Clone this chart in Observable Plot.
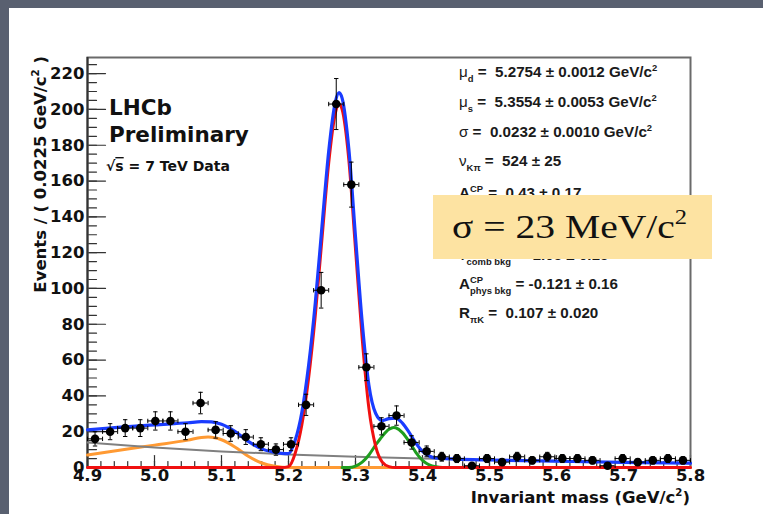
<!DOCTYPE html>
<html>
<head>
<meta charset="utf-8">
<script src="https://cdn.jsdelivr.net/npm/d3@7"></script>
<script src="https://cdn.jsdelivr.net/npm/@observablehq/plot@0.6"></script>
<style>
  html, body { margin: 0; padding: 0; background: #fff; }
  #slide { position: relative; width: 763px; height: 514px; overflow: hidden; background: #fff; }
  #slide svg { position: absolute; left: 0; top: 0; }
  .band { position: absolute; background: #596070; z-index: 2; }
</style>
</head>
<body>
<div id="slide"></div>
<script>
// B -> K pi invariant-mass spectrum, 0.0225 GeV/c^2 bins
const binWidth = 0.0225;
const binCenter = [4.91125, 4.93375, 4.95625, 4.97875, 5.00125, 5.02375, 5.04625, 5.06875, 5.09125, 5.11375,
                   5.13625, 5.15875, 5.18125, 5.20375, 5.22625, 5.24875, 5.27125, 5.29375, 5.31625, 5.33875,
                   5.36125, 5.38375, 5.40625, 5.42875, 5.45125, 5.47375, 5.49625, 5.51875, 5.54125, 5.56375,
                   5.58625, 5.60875, 5.63125, 5.65375, 5.67625, 5.69875, 5.72125, 5.74375, 5.76625, 5.78875];
const events = [16, 20, 22, 22, 26, 26, 20, 36, 21, 19,
                17, 13, 10, 13, 35, 99, 203, 158, 56, 23,
                29, 14, 9, 6, 5, 1, 5, 3, 6, 4,
                6, 5, 5, 4, 1, 5, 3, 4, 5, 4];

// Fit components (events per bin)
const totalMass = [4.90, 4.95, 5.00, 5.05, 5.07, 5.085, 5.10, 5.12, 5.14, 5.16, 5.18, 5.19, 5.20, 5.21, 5.22, 5.23,
                   5.24, 5.25, 5.26, 5.27, 5.2754, 5.28, 5.29, 5.30, 5.31, 5.32, 5.33, 5.34, 5.35, 5.36, 5.37,
                   5.38, 5.39, 5.40, 5.41, 5.42, 5.45, 5.50, 5.60, 5.70, 5.80];
const totalFit  = [21.0, 22.5, 23.8, 25.0, 25.6, 25.5, 24.2, 20.2, 14.6, 10.4, 8.4, 7.9, 7.8, 15.2, 31.0, 57.0,
                   92.0, 134.8, 176.6, 204.4, 209.4, 206.3, 178.1, 128.8, 81.0, 45.9, 30.3, 26.2, 27.3, 27.6, 24.8,
                   19.6, 13.6, 9.0, 6.4, 5.3, 4.7, 4.2, 3.5, 2.9, 2.4];

const bdMass = [4.90, 5.19, 5.20, 5.21, 5.22, 5.23, 5.24, 5.25, 5.26, 5.27, 5.2754, 5.28, 5.29, 5.30, 5.31,
                5.32, 5.33, 5.34, 5.35, 5.36, 5.80];
const bdFit  = [0, 0, 0.5, 8, 24, 50, 85, 128, 170, 198, 203, 200, 172, 122, 72,
                33, 12, 3, 0.5, 0, 0];

const bsMass = [5.28, 5.29, 5.30, 5.31, 5.32, 5.33, 5.34, 5.35, 5.357, 5.36, 5.37, 5.38, 5.39, 5.40, 5.41, 5.42, 5.43, 5.44];
const bsFit  = [0, 0, 0.8, 3, 7, 12.5, 17.5, 21.3, 22.4, 22.2, 19.5, 14.5, 8.5, 4, 1.5, 0.4, 0, 0];

const physMass = [4.90, 4.95, 5.00, 5.05, 5.07, 5.08, 5.09, 5.10, 5.12, 5.14, 5.16, 5.18, 5.20, 5.80];
const physFit  = [7.0, 9.8, 12.5, 15.3, 16.8, 17.0, 16.6, 15.5, 11.5, 6.3, 2.5, 0.7, 0, 0];

const combMass = [4.90, 5.00, 5.10, 5.20, 5.30, 5.40, 5.50, 5.60, 5.70, 5.80];
const combFit  = [14.0, 11.2, 9.0, 7.3, 6.0, 5.0, 4.2, 3.5, 2.9, 2.4];

const xTickValues = [4.9, 5.0, 5.1, 5.2, 5.3, 5.4, 5.5, 5.6, 5.7, 5.8];
const yTickValues = [0, 20, 40, 60, 80, 100, 120, 140, 160, 180, 200, 220];

const rootFont = "'DejaVu Sans', Verdana, sans-serif";
const sans = "'Liberation Sans', Arial, Helvetica, sans-serif";
const serif = "'Liberation Serif', 'Times New Roman', serif";
const ink = "#111";

const points = binCenter.map((m, i) => ({m, n: events[i]}));
const pairs = (xs, ys) => xs.map((x, i) => ({x, y: ys[i]}));

// marker shapes: error-bar end caps and plain tick strokes
const hCap = {draw(ctx, size) { const r = Math.sqrt(size / Math.PI); ctx.moveTo(-r, 0); ctx.lineTo(r, 0); }};
const vCap = {draw(ctx, size) { const r = Math.sqrt(size / Math.PI); ctx.moveTo(0, -r); ctx.lineTo(0, r); }};
const stroke = {draw(ctx, l) { ctx.moveTo(0, 0); ctx.lineTo(0, -l); }};

const yMinor = d3.ticks(0, 229, 46), yMajor = yTickValues;
const xMinor = d3.ticks(4.9, 5.8, 45), xMajor = xTickValues;

const line = (data, color, width) =>
  Plot.line(data, {x: "x", y: "y", stroke: color, strokeWidth: width, curve: "monotone-x", strokeLinejoin: "round"});

const chart = Plot.plot({
  width: 763,
  height: 514,
  marginLeft: 87,
  marginRight: 73,
  marginTop: 57,
  marginBottom: 47,
  style: {fontFamily: sans, background: "transparent", overflow: "visible"},
  x: {domain: [4.9, 5.8]},
  y: {domain: [0, 229]},
  marks: [
    // ROOT-style inward ticks
    Plot.vectorY(yMinor, {x: 4.9, length: 9, rotate: 90, anchor: "start", shape: stroke, stroke: "#333", strokeWidth: 1.2}),
    Plot.vectorY(yMajor, {x: 4.9, length: 18, rotate: 90, anchor: "start", shape: stroke, stroke: "#333", strokeWidth: 1.2}),
    Plot.vectorX(xMinor, {y: 0, length: 6, rotate: 0, anchor: "start", shape: stroke, stroke: "#333", strokeWidth: 1.2}),
    Plot.vectorX(xMajor, {y: 0, length: 12, rotate: 0, anchor: "start", shape: stroke, stroke: "#333", strokeWidth: 1.2}),
    Plot.axisY(yTickValues, {tickSize: 0, tickPadding: 3, label: null, fontSize: 16.5, fontWeight: "bold", fontFamily: rootFont, fill: ink}),
    Plot.axisX(xTickValues, {tickSize: 0, tickPadding: 2, label: null, fontSize: 16.5, fontWeight: "bold", fontFamily: rootFont, fill: ink}),
    Plot.frame({stroke: "#6a6a6a", strokeWidth: 2}),
    Plot.ruleX([4.9], {stroke: "#333", strokeWidth: 2}),

    // fit components
    line(pairs(physMass, physFit), "#ff9a33", 3),
    line(pairs(combMass, combFit), "#808080", 2),
    line(pairs(bsMass, bsFit), "#1f9e1f", 3),
    line(pairs(bdMass, bdFit), "#f01010", 3),
    line(pairs(totalMass, totalFit), "#1a3cff", 3.2),

    // data with Poisson errors
    Plot.ruleX(points, {x: "m", y1: d => d.n - Math.sqrt(d.n), y2: d => d.n + Math.sqrt(d.n), stroke: "#000", strokeWidth: 1}),
    Plot.ruleY(points, {y: "n", x1: d => d.m - binWidth / 2, x2: d => d.m + binWidth / 2, stroke: "#000", strokeWidth: 1}),
    Plot.dot(points, {x: "m", y: d => d.n + Math.sqrt(d.n), symbol: hCap, r: 2.2, stroke: "#000", strokeWidth: 1}),
    Plot.dot(points, {x: "m", y: d => d.n - Math.sqrt(d.n), symbol: hCap, r: 2.2, stroke: "#000", strokeWidth: 1}),
    Plot.dot(points, {x: d => d.m - binWidth / 2, y: "n", symbol: vCap, r: 2.2, stroke: "#000", strokeWidth: 1}),
    Plot.dot(points, {x: d => d.m + binWidth / 2, y: "n", symbol: vCap, r: 2.2, stroke: "#000", strokeWidth: 1}),
    Plot.dot(points, {x: "m", y: "n", r: 4.3, fill: "#000"})
  ]
});

const slide = document.getElementById("slide");
slide.appendChild(chart);
for (const [l, t, w, h] of [[0, 0, 763, 8], [0, 0, 9, 514]]) {
  const b = document.createElement("div");
  b.className = "band";
  Object.assign(b.style, {left: l + "px", top: t + "px", width: w + "px", height: h + "px"});
  slide.appendChild(b);
}

// rich text with sub/superscripts
const svg = d3.select(chart);
function rich(parent, {x, y, size, weight = "bold", family = rootFont, anchor = "start", sx = 1, rotate = 0, fill = ink}, parts) {
  const g = parent.append("g")
    .attr("transform", `translate(${x},${y})${rotate ? ` rotate(${rotate})` : ""} scale(${sx},1)`);
  const text = g.append("text")
    .attr("font-size", size).attr("font-weight", weight).attr("font-family", family)
    .attr("text-anchor", anchor).attr("fill", fill);
  const small = size * 0.62, up = -0.42 * size, down = 0.3 * size;
  let shift = 0;
  for (const part of parts) {
    const p = typeof part === "string" ? {t: part} : part;
    if (p.sup !== undefined && p.sub !== undefined) {
      const a = text.append("tspan").attr("font-size", small).attr("dy", up - shift).text(p.sup);
      const len = a.node().getComputedTextLength();
      text.append("tspan").attr("font-size", small).attr("dx", -len).attr("dy", down - up).text(p.sub);
      shift = down;
    } else {
      const target = p.sup !== undefined ? up : p.sub !== undefined ? down : 0;
      const ts = text.append("tspan").attr("dy", target - shift).text(p.t ?? p.sup ?? p.sub);
      if (target !== 0) ts.attr("font-size", small);
      if (p.weight) ts.attr("font-weight", p.weight);
      if (p.over) ts.style("text-decoration", "overline");
      shift = target;
    }
  }
  return g;
}

// axis titles
rich(svg, {x: 46, y: 56, size: 16.5, anchor: "end", rotate: -90}, ["Events / ( 0.0225 GeV/c", {sup: "2"}, " )"]);
rich(svg, {x: 690, y: 503, size: 16.5, anchor: "end"}, ["Invariant mass (GeV/c", {sup: "2"}, ")"]);

// experiment label
rich(svg, {x: 109, y: 115, size: 21.5}, ["LHCb"]);
rich(svg, {x: 109, y: 142, size: 21.5}, ["Preliminary"]);
rich(svg, {x: 106, y: 171, size: 14}, ["√", {t: "s", over: true}, " = 7 TeV Data"]);

// fit results
const paramSize = 15.2;
const paramLines = [
  [77,  [{t: "μ", weight: "normal"}, {sub: "d"}, " =  5.2754 ± 0.0012 GeV/c", {sup: "2"}]],
  [107, [{t: "μ", weight: "normal"}, {sub: "s"}, " =  5.3554 ± 0.0053 GeV/c", {sup: "2"}]],
  [137, [{t: "σ", weight: "normal"}, " =  0.0232 ± 0.0010 GeV/c", {sup: "2"}]],
  [166, [{t: "ν", weight: "normal"}, {sub: "Kπ"}, " =  524 ± 25"]],
  [198, ["A", {sup: "CP", sub: "Kπ"}, " =  0.43 ± 0.17"]],
  [260, [{t: "ν", weight: "normal"}, {sub: "comb bkg"}, " =  1.05 ± 0.15"]],
  [289, ["A", {sup: "CP", sub: "phys bkg"}, " = -0.121 ± 0.16"]],
  [318, ["R", {sub: "πK"}, " =  0.107 ± 0.020"]]
];
for (const [y, parts] of paramLines) rich(svg, {x: 459, y, size: paramSize, family: sans, fill: "#1a1a1a"}, parts);

// highlighted resolution
svg.append("rect").attr("x", 433).attr("y", 195).attr("width", 279).attr("height", 64).attr("fill", "#fde3a2");
rich(svg, {x: 452, y: 238, size: 33, weight: "normal", family: serif, sx: 1.2, fill: "#111"},
     ["σ = 23 MeV/c", {sup: "2"}]);
</script>
</body>
</html>
